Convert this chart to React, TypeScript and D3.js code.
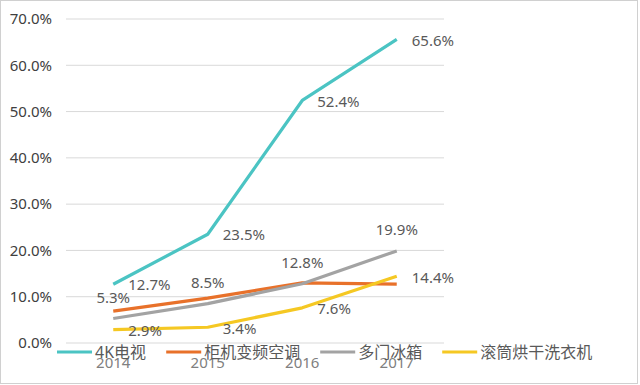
import React from "react";
import * as d3 from "d3";

const years = ["2014", "2015", "2016", "2017"];
const seriesNames = ["4K电视", "柜机变频空调", "多门冰箱", "滚筒烘干洗衣机"];
const tvValues = [12.7, 23.5, 52.4, 65.6];
const acValues = [6.9, 9.7, 13.0, 12.7];
const fridgeValues = [5.3, 8.5, 12.8, 19.9];
const washerValues = [2.9, 3.4, 7.6, 14.4];
const yTicks = [0, 10, 20, 30, 40, 50, 60, 70];

const colors = ["#4BC4C3", "#E8712A", "#A3A3A3", "#F5C823"];
// where each series puts its value labels
const labelPlace = ["right", "none", "above", "right"];

export default function App() {
  const width = 640;
  const height = 385;
  const margin = { top: 19, left: 66, right: 196, bottom: 42 };
  const plotW = width - margin.left - margin.right;
  const plotH = height - margin.top - margin.bottom;
  const font = "'Noto Sans', 'Noto Sans CJK SC', sans-serif";

  const allValues = [tvValues, acValues, fridgeValues, washerValues];

  const x = d3.scaleBand().domain(years).range([0, plotW]);
  const y = d3.scaleLinear().domain([0, 70]).range([plotH, 0]);

  const line = d3
    .line<number>()
    .x((d, i) => (x(years[i]) as number) + x.bandwidth() / 2)
    .y((d) => y(d));

  // 凡例の位置
  const legendFont = 16;
  const textWidth = (s: string) =>
    Array.from(s).reduce((w, c) => w + (c.charCodeAt(0) > 255 ? legendFont : legendFont * 0.6), 0);
  let lx = 57;
  const legendX = seriesNames.map((name) => {
    const cur = lx;
    lx += 38 + textWidth(name) + 20;
    return cur;
  });

  return (
    <svg width={width} height={height} style={{ position: "absolute", left: 0, top: 0 }}>
      <rect x={0} y={0} width={width} height={height} fill="#fff" />
      <rect x={0.5} y={0.5} width={637} height={383} fill="none" stroke="#d0d0d0" />
      <g transform={`translate(${margin.left},${margin.top})`}>
        {/* grid + y axis */}
        {yTicks.map((t) => (
          <g key={t} transform={`translate(0,${y(t)})`}>
            <line x1={0} x2={plotW} stroke="#d9d9d9" strokeWidth={1} />
            <text x={-14} dy="0.35em" textAnchor="end" fontFamily={font} fontSize={15} fill="#404040">
              {t.toFixed(1)}%
            </text>
          </g>
        ))}

        {/* x labels */}
        {years.map((yr) => (
          <text
            key={yr}
            x={(x(yr) as number) + x.bandwidth() / 2}
            y={plotH + 20}
            dy="0.35em"
            textAnchor="middle"
            fontFamily={font}
            fontSize={15}
            fill="#808080"
          >
            {yr}
          </text>
        ))}

        {/* lines */}
        {allValues.map((vals, s) => (
          <path key={s} d={line(vals) as string} fill="none" stroke={colors[s]} strokeWidth={3.2} strokeLinejoin="round" />
        ))}

        {/* value labels */}
        {allValues.map((vals, s) =>
          labelPlace[s] === "none"
            ? null
            : vals.map((v, i) => {
                const cx = (x(years[i]) as number) + x.bandwidth() / 2;
                const cy = y(v);
                const above = labelPlace[s] === "above";
                return (
                  <text
                    key={`${s}-${i}`}
                    x={above ? cx : cx + 15}
                    y={above ? cy - 21 : cy + 1}
                    dy="0.35em"
                    textAnchor={above ? "middle" : "start"}
                    fontFamily={font}
                    fontSize={15}
                    fill="#595959"
                  >
                    {v.toFixed(1)}%
                  </text>
                );
              })
        )}
      </g>

      {/* legend */}
      {seriesNames.map((name, s) => (
        <g key={name} transform={`translate(${legendX[s]},352)`}>
          <line x1={0} x2={35} stroke={colors[s]} strokeWidth={3.2} />
          <text x={38} dy="0.35em" fontFamily={font} fontSize={legendFont} fill="#595959">
            {name}
          </text>
        </g>
      ))}
    </svg>
  );
}
